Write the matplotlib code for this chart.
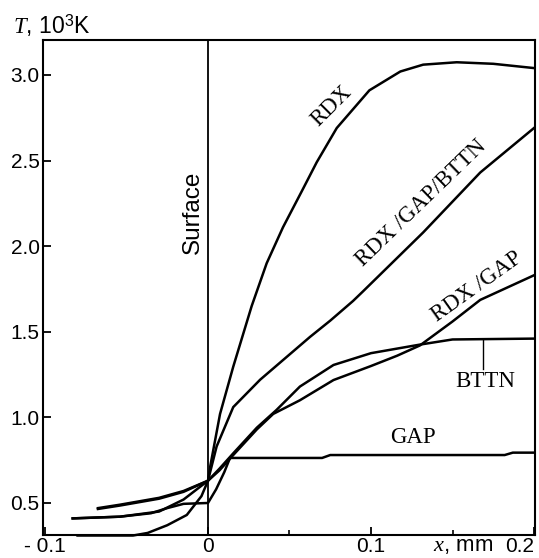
import matplotlib
matplotlib.use("Agg")
import matplotlib.pyplot as plt

plt.rcParams['font.family'] = ['Liberation Sans', 'DejaVu Sans']
plt.rcParams['mathtext.fontset'] = 'custom'
plt.rcParams['mathtext.rm'] = 'Liberation Sans'
plt.rcParams['mathtext.it'] = 'Liberation Serif:italic'

# ---- data (x in mm, T in 10^3 K) ----
rdx_x = [-0.080, -0.046, -0.037, -0.025, -0.013, -0.004, 0.000, 0.0015, 0.0074, 0.0155,
         0.0268, 0.036, 0.046, 0.0575, 0.0667, 0.079, 0.099, 0.118, 0.132, 0.1526, 0.175, 0.200]
rdx_t = [0.310, 0.310, 0.325, 0.370, 0.430, 0.540, 0.630, 0.720, 1.020, 1.296,
         1.650, 1.900, 2.110, 2.320, 2.490, 2.690, 2.910, 3.020, 3.060, 3.074, 3.065, 3.040]

rgb_x = [-0.0675, -0.054, -0.030, -0.015, 0.000, 0.0053, 0.0155, 0.032, 0.0626, 0.075,
         0.089, 0.095, 0.132, 0.167, 0.200]
rgb_t = [0.470, 0.490, 0.530, 0.570, 0.630, 0.830, 1.060, 1.220, 1.470, 1.565,
         1.680, 1.735, 2.080, 2.430, 2.690]

rg_x = [-0.083, -0.054, -0.030, -0.015, 0.000, 0.007, 0.0155, 0.030, 0.040, 0.0564,
        0.077, 0.100, 0.116, 0.130, 0.150, 0.167, 0.200]
rg_t = [0.410, 0.420, 0.450, 0.520, 0.630, 0.690, 0.780, 0.930, 1.020, 1.100,
        1.218, 1.300, 1.360, 1.420, 1.560, 1.686, 1.830]

bttn_x = [-0.0675, -0.054, -0.030, -0.015, 0.000, 0.007, 0.0155, 0.030, 0.042, 0.0564,
          0.077, 0.100, 0.118, 0.130, 0.150, 0.200]
bttn_t = [0.465, 0.485, 0.525, 0.565, 0.630, 0.700, 0.790, 0.940, 1.043, 1.180,
          1.306, 1.375, 1.405, 1.425, 1.455, 1.460]

gap_x = [-0.083, -0.054, -0.035, -0.025, -0.015, 0.000, 0.005, 0.010, 0.0135, 0.070,
         0.075, 0.182, 0.187, 0.200]
gap_t = [0.410, 0.420, 0.440, 0.470, 0.495, 0.500, 0.580, 0.680, 0.763, 0.763,
         0.780, 0.780, 0.794, 0.794]

xticks = [-0.1, 0.0, 0.1, 0.2]
xtick_labels = ['- 0.1', '0', '0.1', '0.2']
xminor = [0.05, 0.15]
yticks = [0.5, 1.0, 1.5, 2.0, 2.5, 3.0]
ytick_labels = ['0.5', '1.0', '1.5', '2.0', '2.5', '3.0']

W, H = 539, 558
fig = plt.figure(figsize=(W / 100, H / 100), dpi=100)
ax = fig.add_axes([43 / W, 1 - 535 / H, (535 - 43) / W, (535 - 40) / H])

lw = 1.8
ax.plot(rdx_x, rdx_t, color='black', lw=lw, clip_on=False)
ax.plot(rgb_x, rgb_t, color='black', lw=lw)
ax.plot(rg_x, rg_t, color='black', lw=lw)
ax.plot(bttn_x, bttn_t, color='black', lw=lw)
ax.plot(gap_x, gap_t, color='black', lw=lw)
ax.axvline(0, color='black', lw=1.3)

ax.set_xlim(-0.1012, 0.2006)
ax.set_ylim(0.313, 3.204)

ax.set_xticks(xticks)
ax.set_xticklabels(xtick_labels)
ax.set_xticks(xminor, minor=True)
ax.set_yticks(yticks)
ax.set_yticklabels(ytick_labels)
ax.tick_params(axis='both', which='major', direction='in', length=6, width=1.3,
               labelsize=15)
ax.tick_params(axis='x', which='major', pad=1.5)
ax.tick_params(axis='y', which='major', pad=2.5)
ax.tick_params(axis='x', which='minor', direction='in', length=3.5, width=1.2)
for lab in ax.get_xticklabels():
    if lab.get_text() == '0.2':
        lab.set_horizontalalignment('right')
for s in ax.spines.values():
    s.set_linewidth(1.5)

serif = ['Liberation Serif', 'DejaVu Serif']
fs = 16.5
ax.text(0.076, 2.82, 'RDX', family=serif, fontsize=fs, rotation=45,
        ha='center', va='center', rotation_mode='anchor')
ax.text(0.131, 2.25, 'RDX /GAP/BTTN', family=serif, fontsize=fs, rotation=44,
        ha='center', va='center', rotation_mode='anchor')
ax.text(0.165, 1.76, 'RDX /GAP', family=serif, fontsize=fs, rotation=35.5,
        ha='center', va='center', rotation_mode='anchor')
ax.text(0.170, 1.207, 'BTTN', family=serif, fontsize=fs, ha='center', va='center')
ax.plot([0.169, 0.169], [1.455, 1.28], color='black', lw=1.0)
ax.text(0.126, 0.88, 'GAP', family=serif, fontsize=fs, ha='center', va='center')
ax.text(-0.0092, 2.20, 'Surface', fontsize=17.5, rotation=90, ha='center', va='center')

fig.text(13 / W, 1 - 26 / H, '$T$, 10$^3$K', fontsize=16.5, ha='left', va='center')
fig.text(433 / W, 1 - 546 / H, '$x$, mm', fontsize=16, ha='left', va='center')

fig.savefig('out.png', dpi=100)
